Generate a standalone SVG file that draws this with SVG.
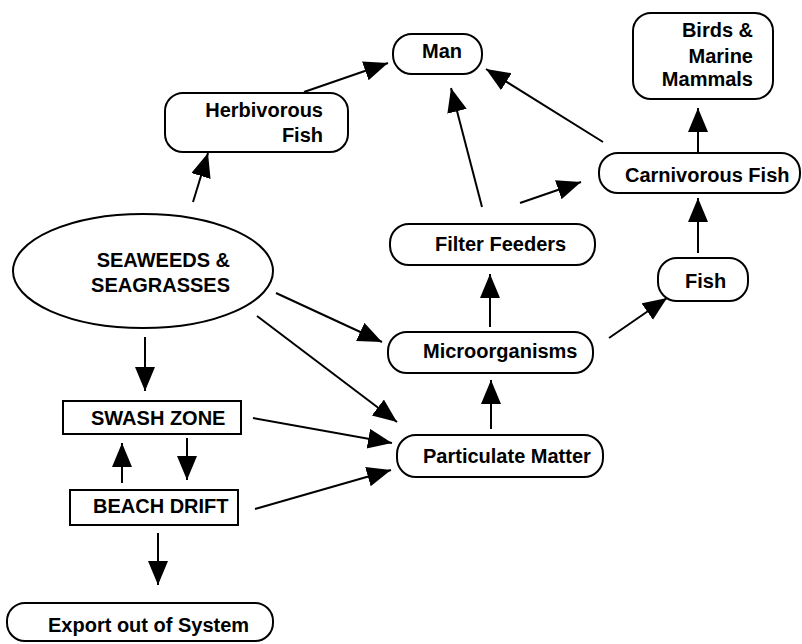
<svg xmlns="http://www.w3.org/2000/svg" width="802" height="644" viewBox="0 0 802 644">
<defs>
<marker id="ah" markerUnits="userSpaceOnUse" markerWidth="26" markerHeight="22" refX="24" refY="10" orient="auto">
<path d="M0,0 L24,10 L0,20 z" fill="#000"/>
</marker>
<style>
.box{fill:#fff;stroke:#000;stroke-width:2}
.t{font-family:"Liberation Sans",Arial,Helvetica,sans-serif;font-size:20px;font-weight:bold;fill:#000}
.c line{stroke:#000;stroke-width:2;marker-end:url(#ah)}
</style>
</defs>
<rect width="802" height="644" fill="#fff"/>
<g id="man"><rect class="box" x="393" y="34" width="89" height="40" rx="19"/><text class="t" x="442" y="58" text-anchor="middle">Man</text></g>
<g id="birds"><rect class="box" x="633" y="13" width="140" height="86" rx="18"/><text class="t" text-anchor="end"><tspan x="753" y="37">Birds &amp;</tspan><tspan x="753" y="63">Marine</tspan><tspan x="753" y="86">Mammals</tspan></text></g>
<g id="herbivorous"><rect class="box" x="165" y="93" width="183" height="59" rx="18"/><text class="t" text-anchor="end"><tspan x="323" y="117">Herbivorous</tspan><tspan x="323" y="142">Fish</tspan></text></g>
<g id="carnivorous"><rect class="box" x="599" y="153" width="201" height="40" rx="19"/><text class="t" x="625" y="182">Carnivorous Fish</text></g>
<g id="filter"><rect class="box" x="390" y="224" width="205" height="41" rx="19"/><text class="t" x="435" y="251">Filter Feeders</text></g>
<g id="fish"><rect class="box" x="658" y="258" width="90" height="43" rx="19"/><text class="t" x="685" y="288">Fish</text></g>
<g id="seaweeds"><ellipse class="box" cx="143" cy="271" rx="130" ry="57"/><text class="t" text-anchor="end"><tspan x="230" y="267">SEAWEEDS &amp;</tspan><tspan x="230" y="292">SEAGRASSES</tspan></text></g>
<g id="micro"><rect class="box" x="388" y="332" width="205" height="41" rx="19"/><text class="t" x="423" y="358">Microorganisms</text></g>
<g id="swash"><rect class="box" x="63" y="401" width="178" height="33"/><text class="t" x="91" y="425">SWASH ZONE</text></g>
<g id="particulate"><rect class="box" x="397" y="435" width="206" height="42" rx="19"/><text class="t" x="423" y="463">Particulate Matter</text></g>
<g id="beach"><rect class="box" x="70" y="490" width="168" height="35"/><text class="t" x="93" y="513">BEACH DRIFT</text></g>
<g id="export"><rect class="box" x="7" y="603" width="266" height="38" rx="18"/><text class="t" x="48" y="632">Export out of System</text></g>
<g id="connectors" class="c">
<line x1="193" y1="202" x2="208" y2="153"/>
<line x1="304" y1="92" x2="388" y2="63"/>
<line x1="482" y1="207" x2="451" y2="88"/>
<line x1="603" y1="142" x2="486" y2="69"/>
<line x1="520" y1="203" x2="581" y2="182"/>
<line x1="698" y1="152" x2="698" y2="108"/>
<line x1="698" y1="253" x2="698" y2="198"/>
<line x1="490" y1="327" x2="490" y2="274"/>
<line x1="609" y1="338" x2="667" y2="298"/>
<line x1="491" y1="429" x2="491" y2="380"/>
<line x1="276" y1="293" x2="382" y2="342"/>
<line x1="257" y1="316" x2="397" y2="422"/>
<line x1="145" y1="337" x2="145" y2="391"/>
<line x1="253" y1="418" x2="392" y2="443"/>
<line x1="255" y1="509" x2="391" y2="470"/>
<line x1="122" y1="483" x2="122" y2="443"/>
<line x1="187" y1="438" x2="187" y2="480"/>
<line x1="158" y1="533" x2="158" y2="585"/>
</g>
</svg>
